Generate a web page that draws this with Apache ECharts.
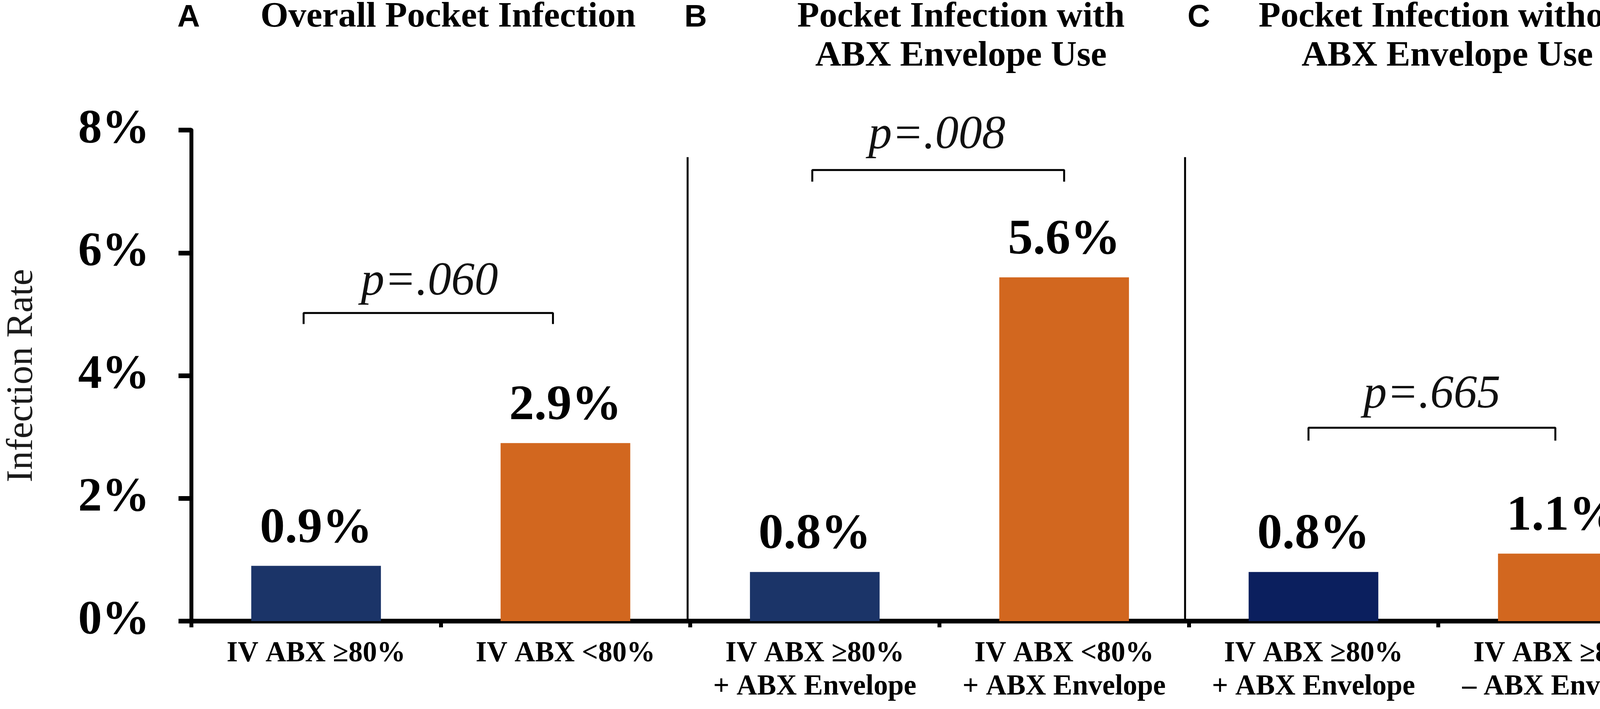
<!DOCTYPE html>
<html>
<head>
<meta charset="utf-8">
<script src="https://cdn.jsdelivr.net/npm/echarts@6/dist/echarts.min.js"></script>
<style>
html,body{margin:0;padding:0;background:#fff;}
#chart{width:4328px;height:1815px;}
</style>
</head>
<body>
<div id="chart"></div>
<script>
// ---- data ----
var categories = [
  'IV ABX \u226580%',
  'IV ABX <80%',
  'IV ABX \u226580%\n+ ABX Envelope',
  'IV ABX <80%\n+ ABX Envelope',
  'IV ABX \u226580%\n+ ABX Envelope',
  'IV ABX \u226580%\n\u2013 ABX Envelope'
];
var infectionRates = [0.9, 2.9, 0.8, 5.6, 0.8, 1.1];
var yTicks = [0, 2, 4, 6, 8];
var panelLetters = ['A', 'B', 'C'];
var panelTitles = [
  'Overall Pocket Infection',
  'Pocket Infection with\nABX Envelope Use',
  'Pocket Infection without\nABX Envelope Use'
];
var pValues = ['p=.060', 'p=.008', 'p=.665'];
// comparison brackets: [left x, right x, bar height, leg end] (x in category units)
var bracketLeft = [-0.05, 1.99, 3.98];
var bracketRight = [0.95, 3.0, 4.97];
var bracketTop = [5.02, 7.35, 3.15];
var bracketLegEnd = [4.84, 7.16, 2.94];
// p-value text anchors
var pTextX = [0.455, 2.49, 4.475];
var pTextY = [5.52, 7.91, 3.68];
// panel separators: x position and top value
var separatorX = [1.49, 3.485];
var separatorTop = [7.56, 7.56];

// ---- styles ----
var barColors = ['#1B3468', '#D2671F', '#1B3468', '#D2671F', '#0B1F5E', '#D2671F'];
var SERIF = '"Liberation Serif", "Times New Roman", Times, serif';
var SANS = '"Liberation Sans", Arial, Helvetica, sans-serif';

var chart = echarts.init(document.getElementById('chart'));

var series = [];
series.push({
  type: 'bar',
  xAxisIndex: 0,
  yAxisIndex: 0,
  barWidth: '52%',
  data: infectionRates.map(function (v, i) {
    return { value: v, itemStyle: { color: barColors[i] } };
  }),
  label: {
    show: true,
    position: 'top',
    distance: 30,
    formatter: function (p) { return p.value.toFixed(1) + '%'; },
    fontFamily: SERIF,
    fontWeight: 'bold',
    fontSize: 128,
    color: '#000'
  },
  z: 2
});

for (var i = 0; i < bracketLeft.length; i++) {
  series.push({
    type: 'line',
    xAxisIndex: 1,
    yAxisIndex: 0,
    symbol: 'none',
    silent: true,
    lineStyle: { color: '#000', width: 5 },
    data: [
      [bracketLeft[i], bracketLegEnd[i]],
      [bracketLeft[i], bracketTop[i]],
      [bracketRight[i], bracketTop[i]],
      [bracketRight[i], bracketLegEnd[i]]
    ],
    z: 3
  });
}

for (var s = 0; s < separatorX.length; s++) {
  series.push({
    type: 'line',
    xAxisIndex: 1,
    yAxisIndex: 0,
    symbol: 'none',
    silent: true,
    lineStyle: { color: '#000', width: 5 },
    data: [[separatorX[s], 0], [separatorX[s], separatorTop[s]]],
    z: 3
  });
}

series.push({
  type: 'scatter',
  xAxisIndex: 1,
  yAxisIndex: 0,
  symbolSize: 0,
  silent: true,
  itemStyle: { opacity: 1 },
  data: pValues.map(function (t, i) { return { value: [pTextX[i], pTextY[i]], name: t }; }),
  label: {
    show: true,
    position: 'inside',
    opacity: 1,
    formatter: function (p) { return p.name; },
    fontFamily: SERIF,
    fontStyle: 'italic',
    fontSize: 120,
    color: '#111'
  },
  z: 4
});

// titles via graphic text
var letterX = [454, 1752, 3040];
var titleCenterX = [1147, 2460, 3705];
var graphics = [];
for (var k = 0; k < 3; k++) {
  graphics.push({
    type: 'text',
    left: letterX[k],
    top: 6,
    style: {
      text: panelLetters[k],
      font: 'bold 80px ' + SANS,
      fill: '#000'
    }
  });
  graphics.push({
    type: 'text',
    x: titleCenterX[k],
    y: -6,
    style: {
      text: panelTitles[k],
      font: 'bold 92px ' + SERIF,
      fill: '#000',
      align: 'center',
      verticalAlign: 'top',
      lineHeight: 100
    }
  });
}

var option = {
  animation: false,
  backgroundColor: '#fff',
  grid: { left: 490, right: 8, top: 333, bottom: 225, containLabel: false },
  xAxis: [
    {
      type: 'category',
      data: categories,
      axisLine: { show: true, onZero: false, lineStyle: { color: '#000', width: 12 } },
      axisTick: { show: true, interval: 0, length: 16, lineStyle: { color: '#000', width: 10 } },
      axisLabel: {
        interval: 0,
        margin: 42,
        fontFamily: SERIF,
        fontWeight: 'bold',
        fontSize: 73,
        lineHeight: 85,
        color: '#000'
      },
      splitLine: { show: false }
    },
    {
      type: 'value',
      min: -0.5,
      max: 5.5,
      show: false,
      splitLine: { show: false }
    }
  ],
  yAxis: {
    type: 'value',
    min: yTicks[0],
    max: yTicks[yTicks.length - 1],
    interval: 2,
    name: 'Infection Rate',
    nameLocation: 'middle',
    nameGap: 385,
    nameTextStyle: { fontFamily: SERIF, fontSize: 96, color: '#1a1a1a' },
    axisLine: { show: true, onZero: false, lineStyle: { color: '#000', width: 10 } },
    axisTick: { show: true, length: 33, lineStyle: { color: '#000', width: 12 } },
    axisLabel: {
      margin: 107,
      formatter: '{value}%',
      fontFamily: SERIF,
      fontWeight: 'bold',
      fontSize: 122,
      color: '#000'
    },
    splitLine: { show: false }
  },
  graphic: graphics,
  series: series
};

chart.setOption(option);
</script>
</body>
</html>
